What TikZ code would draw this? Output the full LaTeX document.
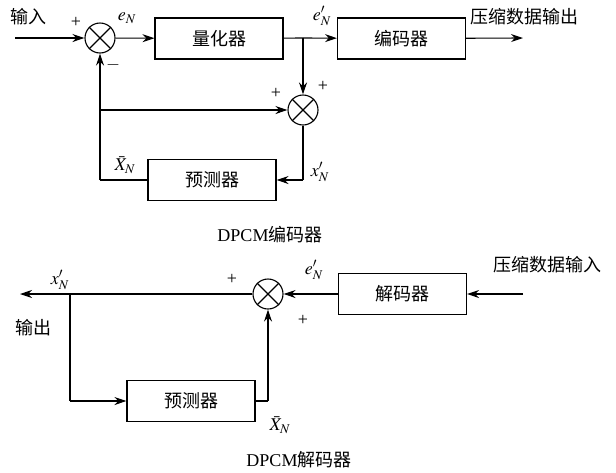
\documentclass[tikz,border=0pt]{standalone}
\usepackage{mathptmx}
\usepackage{fontspec}
\setmainfont{Liberation Serif}
\newfontfamily\cjk{Noto Sans CJK SC}
\usetikzlibrary{arrows.meta}
\begin{document}
\begin{tikzpicture}[x=1pt,y=-1pt,
  every node/.style={font=\fontsize{18}{21}\selectfont},
  blk/.style={draw,line width=1.1pt,minimum width=128pt,minimum height=41pt,inner sep=0pt,font=\cjk\fontsize{18}{21}\selectfont},
  summ/.style={draw,circle,line width=1.1pt,minimum size=30pt,inner sep=0pt},
  ln/.style={line width=1.1pt},
  arr/.style={ln,-{Stealth[length=12pt,width=8pt]}},
  lbl/.style={inner sep=0pt},
  cj/.style={inner sep=0pt,font=\cjk\fontsize{18}{21}\selectfont}]
\useasboundingbox (0,0) rectangle (616,472);
% ---------- encoder ----------
\coordinate (in1) at (15,38);
\node[summ] (s1) at (100,38) {};
\draw[ln] (s1.north east) -- (s1.south west) (s1.north west) -- (s1.south east);
\node[blk] (q) at (219,38.5) {量化器};
\coordinate (b1) at (303,38);
\node[blk] (enc) at (401.5,38.5) {编码器};
\coordinate (out1) at (523,38);
\node[summ] (s2) at (303,110) {};
\draw[ln] (s2.north east) -- (s2.south west) (s2.north west) -- (s2.south east);
\node[blk] (p1) at (212,180) {预测器};
\coordinate (c1) at (303,180);
\coordinate (c2) at (100,180);
\coordinate (c3) at (100,110);
\draw[arr] (in1) -- (s1);
\draw[arr] (s1) -- (q);
\draw[ln] (q) -- (b1);
\draw[arr] (b1) -- (enc);
\draw[arr] (enc) -- (out1);
\draw[arr] (b1) -- (s2);
\draw[ln] (s2) -- (c1);
\draw[arr] (c1) -- (p1);
\draw[ln] (p1) -- (c2);
\draw[arr] (c2) -- (s1);
\draw[arr] (c3) -- (s2);
\node[cj] (tin) at (28,17) {输入};
\node[lbl] (pl1) at (76,22) {+};
\node[lbl] (mi1) at (113,65) {$-$};
\node[lbl] (eN) at (127,18) {$e_N$};
\node[lbl] (eN2) at (322,16) {$e'_N$};
\node[cj] (tout) at (524,17) {压缩数据输出};
\node[lbl] (pl2) at (276,93) {+};
\node[lbl] (pl3) at (323,86) {+};
\node[lbl] (xN) at (320,172) {$x'_N$};
\node[lbl] (XN) at (125,165) {$\bar X_N$};
\node[lbl] (cap1) at (270,235) {DPCM{\cjk 编码器}};
% ---------- decoder ----------
\node[summ] (s3) at (268,294) {};
\draw[ln] (s3.north east) -- (s3.south west) (s3.north west) -- (s3.south east);
\node[blk] (dec) at (402.5,294) {解码器};
\coordinate (in2) at (523,294);
\coordinate (out2) at (20,294);
\coordinate (b2) at (70,294);
\node[blk] (p2) at (191,401) {预测器};
\coordinate (d1) at (70,401);
\coordinate (d2) at (268,401);
\draw[arr] (in2) -- (dec);
\draw[arr] (dec) -- (s3);
\draw[arr] (s3) -- (out2);
\draw[ln] (b2) -- (d1);
\draw[arr] (d1) -- (p2);
\draw[ln] (p2) -- (d2);
\draw[arr] (d2) -- (s3);
\node[cj] (tin2) at (547,265) {压缩数据输入};
\node[cj] (tout2) at (33,328) {输出};
\node[lbl] (xN2) at (60,280) {$x'_N$};
\node[lbl] (eN3) at (314,270) {$e'_N$};
\node[lbl] (pl4) at (232,279) {+};
\node[lbl] (pl5) at (303,320) {+};
\node[lbl] (XN2) at (280,425) {$\bar X_N$};
\node[lbl] (cap2) at (299,460) {DPCM{\cjk 解码器}};
\end{tikzpicture}
\end{document}
